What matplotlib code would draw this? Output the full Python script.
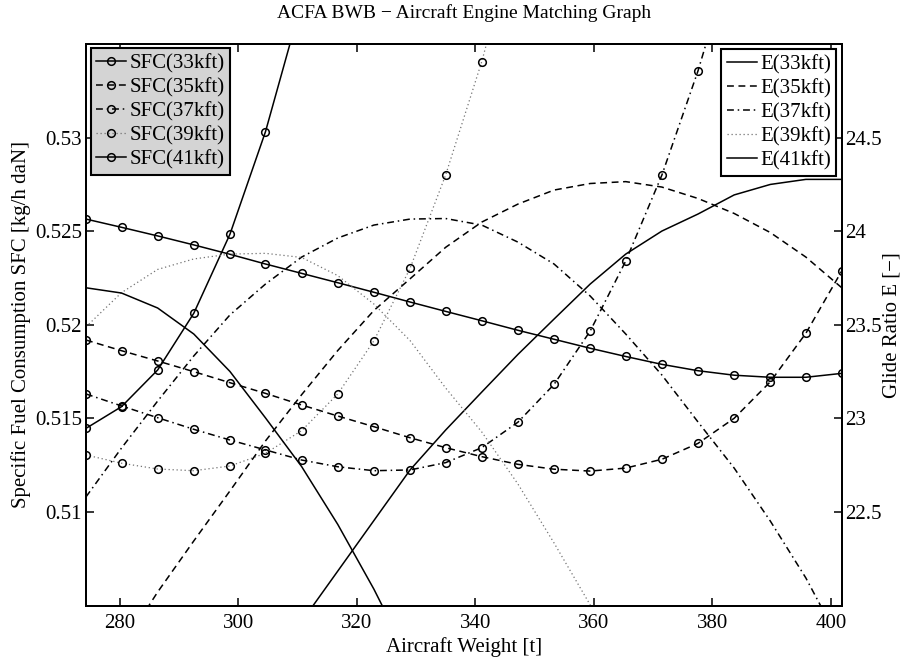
#绘制发动机匹配图
import matplotlib
matplotlib.use('Agg')
import matplotlib.pyplot as plt

plt.rcParams['font.family'] = ['Liberation Serif', 'DejaVu Serif']

# 飞机重量 [t]
weight = [274.3, 280.3, 286.4, 292.5, 298.6, 304.6, 310.7, 316.8, 322.9, 329.0, 335.0,
          341.1, 347.2, 353.3, 359.4, 365.4, 371.5, 377.6, 383.7, 389.8, 395.8, 401.9]

# 油耗 SFC [kg/h daN]
sfc33 = [0.52565, 0.52521, 0.52475, 0.52427, 0.52377, 0.52325, 0.52275, 0.52225, 0.52174, 0.52122, 0.52072,
         0.52022, 0.51971, 0.51923, 0.51875, 0.51831, 0.51789, 0.51755, 0.51731, 0.51720, 0.51720, 0.51741]
sfc35 = [0.51919, 0.51862, 0.51807, 0.51750, 0.51691, 0.51634, 0.51572, 0.51513, 0.51456, 0.51397, 0.51344,
         0.51296, 0.51255, 0.51229, 0.51219, 0.51235, 0.51282, 0.51367, 0.51501, 0.51696, 0.51955, 0.52290]
sfc37 = [0.51631, 0.51567, 0.51504, 0.51442, 0.51385, 0.51332, 0.51278, 0.51242, 0.51221, 0.51225, 0.51264,
         0.51344, 0.51480, 0.51682, 0.51967, 0.52341, 0.52800, 0.53357, 0.54007]
sfc39 = [0.51305, 0.51261, 0.51230, 0.51221, 0.51246, 0.51314, 0.51435, 0.51631, 0.51915, 0.52302, 0.52800,
         0.53406, 0.54125]
sfc41 = [0.51447, 0.51563, 0.51759, 0.52062, 0.52484, 0.53032, 0.53724]

# 升阻比 E [-]
e33 = [None, None, None, None, None, 21.646, 21.915, 22.185, 22.455, 22.725, 22.938,
       23.141, 23.342, 23.531, 23.718, 23.878, 24.001, 24.092, 24.194, 24.250, 24.277, 24.277]
e35 = [None, 21.774, 22.073, 22.346, 22.613, 22.880, 23.127, 23.363, 23.577, 23.746, 23.914,
       24.049, 24.145, 24.220, 24.255, 24.265, 24.236, 24.175, 24.095, 23.993, 23.862, 23.697]
e37 = [22.581, 22.842, 23.093, 23.334, 23.553, 23.718, 23.862, 23.964, 24.033, 24.065, 24.068,
       24.033, 23.942, 23.825, 23.654, 23.451, 23.232, 22.981, 22.735, 22.452, 22.148, 21.785]
e39 = [23.489, 23.672, 23.796, 23.852, 23.878, 23.882, 23.860, 23.763, 23.611, 23.416, 23.163,
       22.928, 22.650, 22.335, 22.004, 21.646]
e41 = [23.698, 23.670, 23.590, 23.451, 23.251, 23.003, 22.743, 22.434, 22.088, 21.705]

sfcTicks = [0.51, 0.515, 0.52, 0.525, 0.53]
eTicks = [22.5, 23, 23.5, 24, 24.5]
wTicks = [280, 300, 320, 340, 360, 380, 400]


def cut(y):
    xs = [weight[i] for i in range(len(y)) if y[i] is not None]
    ys = [v for v in y if v is not None]
    return xs, ys


fig = plt.figure(figsize=(9.02, 6.59), dpi=100)
ax1 = fig.add_axes([0.0953, 0.0809, 0.8382, 0.8523])
ax2 = ax1.twinx()

mk = dict(marker='o', markersize=5.5, fillstyle='none', markeredgewidth=1.1, color='black', linewidth=1.1)
styles = [('-', None), ('--', (4.5, 3)), ('-.', (4.5, 2.5, 1, 2.5)), (':', (1, 2.2)), ('-', None)]
sfcData = [sfc33, sfc35, sfc37, sfc39, sfc41]
sfcNames = ['SFC(33kft)', 'SFC(35kft)', 'SFC(37kft)', 'SFC(39kft)', 'SFC(41kft)']
h1 = []
for (ls, dash), y, name in zip(styles, sfcData, sfcNames):
    xs, ys = cut(y)
    line, = ax1.plot(xs, ys, linestyle=ls, label=name, **mk)
    if dash:
        line.set_dashes(dash)
    if ls == ':':
        line.set_color('0.45')
        line.set_markeredgecolor('black')
        line.set_linewidth(0.9)
    h1.append(line)

eData = [e33, e35, e37, e39, e41]
eNames = ['E(33kft)', 'E(35kft)', 'E(37kft)', 'E(39kft)', 'E(41kft)']
h2 = []
for (ls, dash), y, name in zip(styles, eData, eNames):
    xs, ys = cut(y)
    line, = ax2.plot(xs, ys, linestyle=ls, color='black', linewidth=1.1, label=name)
    if dash:
        line.set_dashes(dash)
    if ls == ':':
        line.set_color('0.45')
        line.set_linewidth(0.9)
    h2.append(line)

ax1.set_xlim(274.3, 401.9)
ax1.set_ylim(0.505, 0.535)
ax2.set_ylim(22, 25)
ax1.set_xticks(wTicks)
ax1.set_yticks(sfcTicks)
ax1.set_yticklabels(['0.51', '0.515', '0.52', '0.525', '0.53'])
ax2.set_yticks(eTicks)
ax2.set_yticklabels(['22.5', '23', '23.5', '24', '24.5'])

ax1.tick_params(direction='in', length=6, width=1.1, labelsize=15, top=True, right=False, pad=6)
ax1.tick_params(axis='y', pad=3)
ax2.tick_params(direction='in', length=6, width=1.1, labelsize=15, left=False, pad=2)
for sp in ax1.spines.values():
    sp.set_linewidth(1.4)
for sp in ax2.spines.values():
    sp.set_linewidth(1.4)

ax1.set_xlabel('Aircraft Weight [t]', fontsize=15, labelpad=3)
ax1.set_ylabel('Specific Fuel Consumption SFC [kg/h daN]', fontsize=15, labelpad=3)
ax2.set_ylabel('Glide Ratio E [\u2212]', fontsize=15, labelpad=1)
ax1.set_title('ACFA BWB \u2212 Aircraft Engine Matching Graph', fontsize=14, pad=19)

legOpts = dict(fontsize=15, frameon=True, fancybox=False, edgecolor='black', borderpad=0.25,
               labelspacing=0.22, handlelength=1.45, handletextpad=0.15, borderaxespad=0,
               numpoints=1, bbox_transform=fig.transFigure)
leg1 = ax2.legend(handles=h1, loc='upper left', bbox_to_anchor=(0.1009, 0.9267), **legOpts)
leg1.get_frame().set_facecolor('#d4d4d4')
leg1.get_frame().set_alpha(1)
leg1.get_frame().set_linewidth(1.5)
ax2.add_artist(leg1)
leg2 = ax2.legend(handles=h2, loc='upper right', bbox_to_anchor=(0.9268, 0.9252), **legOpts)
leg2.get_frame().set_facecolor('white')
leg2.get_frame().set_alpha(1)
leg2.get_frame().set_linewidth(1.5)

plt.savefig('out.png', dpi=100)
